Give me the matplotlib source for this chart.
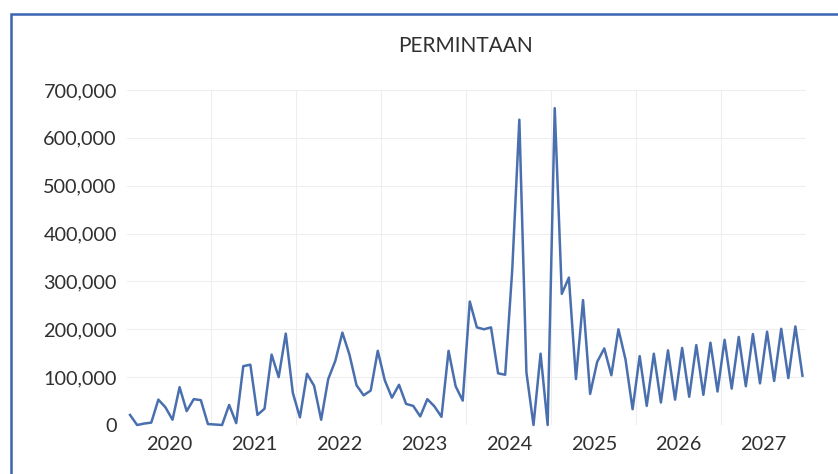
import matplotlib
matplotlib.use("Agg")
import matplotlib.pyplot as plt
from matplotlib.patches import Rectangle
from matplotlib.ticker import FuncFormatter

plt.rcParams['font.family'] = ['Lato', 'DejaVu Sans']

title = "PERMINTAAN"
years = ["2020", "2021", "2022", "2023", "2024", "2025", "2026", "2027"]
# monthly demand values (thousands), Jan 2020 - Dec 2027
demand_k = [21, 0, 3, 5, 53, 37, 11, 79, 29, 54, 52, 2,
            1, 0, 42, 4, 123, 126, 21, 34, 147, 100, 191, 67,
            16, 107, 82, 11, 96, 134, 193, 147, 83, 62, 72, 155,
            93, 57, 84, 44, 40, 18, 54, 39, 17, 155, 81, 51,
            258, 204, 200, 204, 108, 105, 325, 638, 110, 0, 149, 0,
            662, 274, 308, 96, 261, 65, 132, 160, 104, 200, 137, 33,
            144, 40, 149, 47, 156, 53, 161, 59, 167, 63, 172, 70,
            178, 76, 184, 81, 190, 87, 195, 92, 201, 98, 206, 103]
demand = [v * 1000 for v in demand_k]
y_ticks = [0, 100000, 200000, 300000, 400000, 500000, 600000, 700000]

W, H = 838, 474
fig = plt.figure(figsize=(W / 100, H / 100), dpi=100)
fig.patch.set_facecolor("white")

# chart frame
fig.patches.append(Rectangle((11 / W, -0.05), 1.1, (H - 14) / H + 0.05,
                             transform=fig.transFigure, fill=False,
                             edgecolor="#3b64b3", linewidth=1.8))

ax = fig.add_axes([126.5 / W, 49 / H, (806 - 126.5) / W, (425 - 90) / H])
x = list(range(len(demand)))
ax.plot(x, demand, color="#4a6fae", linewidth=1.8, clip_on=False, zorder=3)

ax.set_xlim(-0.5, len(demand) - 0.5)
ax.set_ylim(0, 700000)

ax.set_yticks(y_ticks)
ax.yaxis.set_major_formatter(FuncFormatter(lambda v, p: f"{int(v):,}"))
ax.grid(axis="y", color="#eeeeee", linewidth=0.8)
ax.set_axisbelow(True)

centers = [12 * i + 5.5 for i in range(len(years))]
ax.set_xticks(centers)
ax.set_xticklabels(years)
for b in range(1, len(years)):
    ax.axvline(12 * b - 0.5, color="#eeeeee", linewidth=0.8, zorder=0)

ax.tick_params(axis="both", length=0, labelsize=14.3, colors="#303030")
ax.tick_params(axis="y", pad=7)
ax.tick_params(axis="x", pad=8)
for s in ax.spines.values():
    s.set_visible(False)

fig.text(465 / W, 1 - 45.5 / H, title, ha="center", va="center",
         fontsize=15, color="#303030")

fig.savefig("out.png", dpi=100)
